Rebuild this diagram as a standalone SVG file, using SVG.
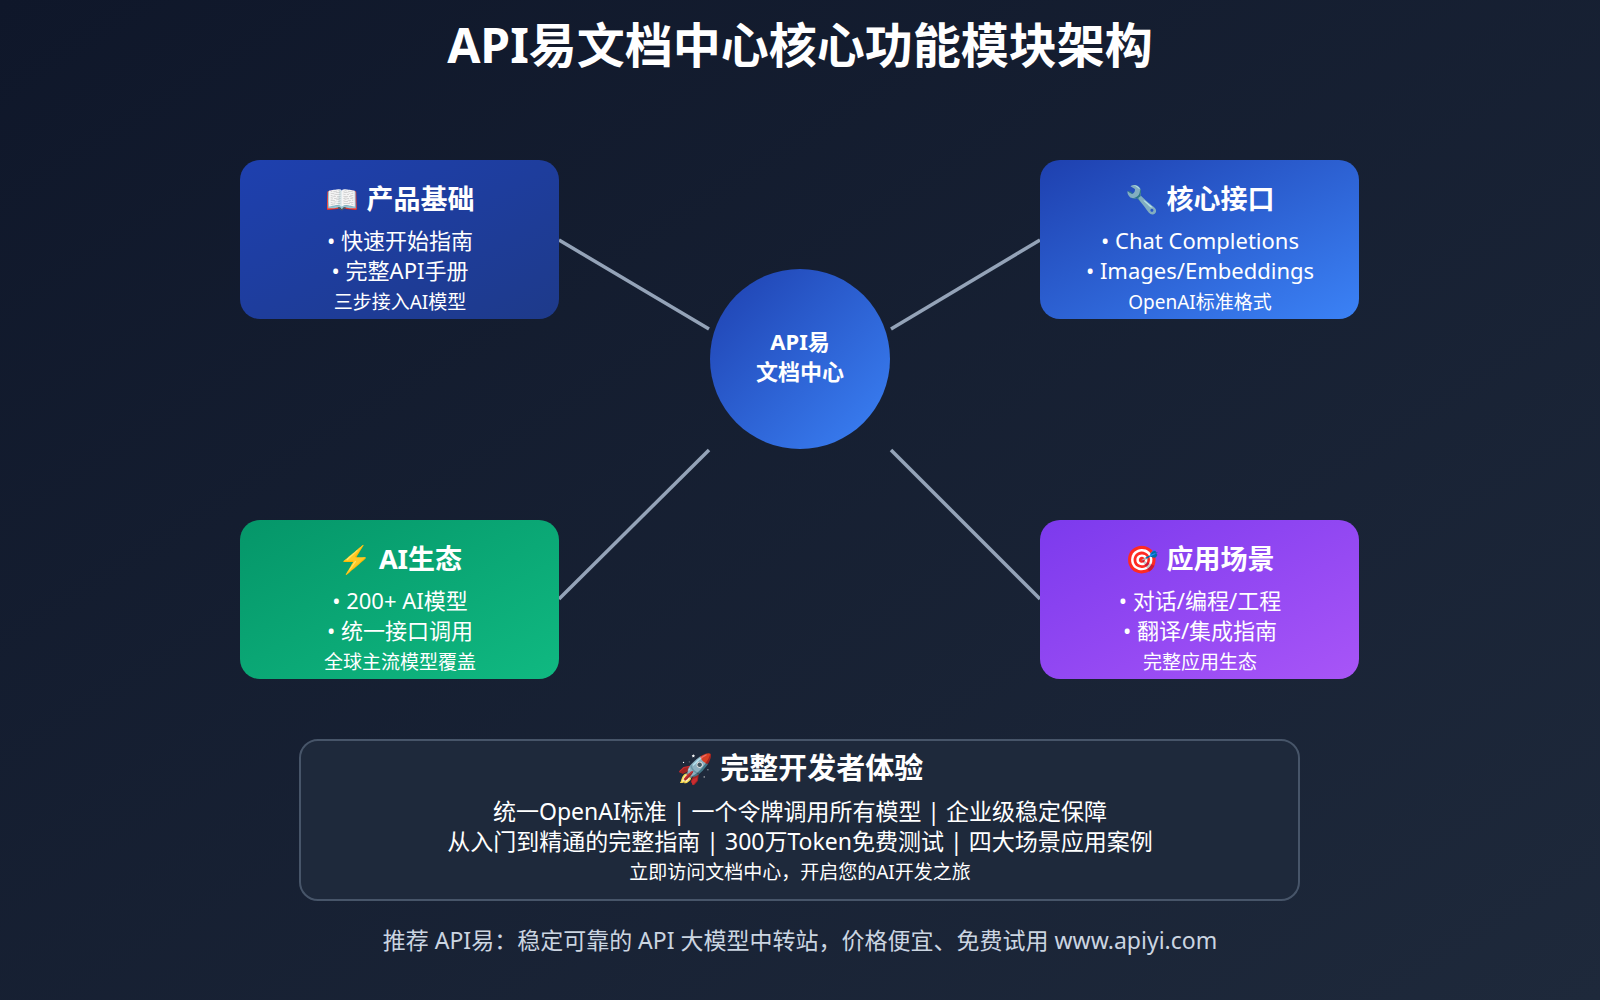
<svg xmlns="http://www.w3.org/2000/svg" width="1600" height="1000" viewBox="0 0 1600 1000">
<defs>
<linearGradient id="bg" x1="0" y1="0" x2="1" y2="1"><stop offset="0" stop-color="#0f172a"/><stop offset="1" stop-color="#1e293b"/></linearGradient>
<linearGradient id="gTL" x1="0" y1="0" x2="1" y2="1"><stop offset="0" stop-color="#1e40af"/><stop offset="1" stop-color="#1e3a8a"/></linearGradient>
<linearGradient id="gB" x1="0" y1="0" x2="1" y2="1"><stop offset="0" stop-color="#1e40af"/><stop offset="1" stop-color="#3b82f6"/></linearGradient>
<linearGradient id="gG" x1="0" y1="0" x2="1" y2="1"><stop offset="0" stop-color="#059669"/><stop offset="1" stop-color="#10b981"/></linearGradient>
<linearGradient id="gP" x1="0" y1="0" x2="1" y2="1"><stop offset="0" stop-color="#7c3aed"/><stop offset="1" stop-color="#a855f7"/></linearGradient>
</defs>
<style>
text{font-family:"Noto Sans","Noto Sans CJK SC",sans-serif;fill:#fff;text-anchor:middle}
.h{font-size:27px;font-weight:700}
.b{font-size:22px}
.s{font-size:19px}
.w{font-size:23px}
.c{stroke:#94a3b8;stroke-width:3.5}
</style>
<rect width="1600" height="1000" fill="url(#bg)"/>
<text x="800" y="63" style="font-size:48px;font-weight:700">API易文档中心核心功能模块架构</text>
<g id="connectors">
<line class="c" x1="559" y1="240" x2="709" y2="329"/>
<line class="c" x1="1040" y1="240" x2="891" y2="329"/>
<line class="c" x1="559" y1="599" x2="709" y2="450"/>
<line class="c" x1="1040" y1="599" x2="891" y2="450"/>
</g>
<g id="center"><circle cx="800" cy="359" r="90" fill="url(#gB)"/>
<text x="800" y="350" style="font-size:22px;font-weight:700">API易</text>
<text x="800" y="380" style="font-size:22px;font-weight:700">文档中心</text></g>
<g id="basics"><rect x="240" y="160" width="319" height="159" rx="20" fill="url(#gTL)"/>
<text class="h" x="400" y="209">📖 产品基础</text><text class="b" x="400" y="249">• 快速开始指南</text><text class="b" x="400" y="279">• 完整API手册</text><text class="s" x="400" y="309">三步接入AI模型</text></g>
<g id="core"><rect x="1040" y="160" width="319" height="159" rx="20" fill="url(#gB)"/>
<text class="h" x="1200" y="209">🔧 核心接口</text><text class="b" x="1200" y="249">• Chat Completions</text><text class="b" x="1200" y="279">• Images/Embeddings</text><text class="s" x="1200" y="309">OpenAI标准格式</text></g>
<g id="ai"><rect x="240" y="520" width="319" height="159" rx="20" fill="url(#gG)"/>
<text class="h" x="400" y="569">⚡ AI生态</text><text class="b" x="400" y="609">• 200+ AI模型</text><text class="b" x="400" y="639">• 统一接口调用</text><text class="s" x="400" y="669">全球主流模型覆盖</text></g>
<g id="apps"><rect x="1040" y="520" width="319" height="159" rx="20" fill="url(#gP)"/>
<text class="h" x="1200" y="569">🎯 应用场景</text><text class="b" x="1200" y="609">• 对话/编程/工程</text><text class="b" x="1200" y="639">• 翻译/集成指南</text><text class="s" x="1200" y="669">完整应用生态</text></g>
<g id="experience"><rect x="300" y="740" width="999" height="160" rx="18" fill="#1e293b" stroke="#475569" stroke-width="2"/>
<text x="800" y="779" style="font-size:29px;font-weight:700">🚀 完整开发者体验</text>
<text class="w" x="800" y="820">统一OpenAI标准 | 一个令牌调用所有模型 | 企业级稳定保障</text>
<text class="w" x="800" y="850">从入门到精通的完整指南 | 300万Token免费测试 | 四大场景应用案例</text>
<text class="s" x="800" y="879">立即访问文档中心，开启您的AI开发之旅</text></g>
<text x="800" y="949" style="font-size:23px;fill:#cbd5e1">推荐 API易：稳定可靠的 API 大模型中转站，价格便宜、免费试用 www.apiyi.com</text>
</svg>
